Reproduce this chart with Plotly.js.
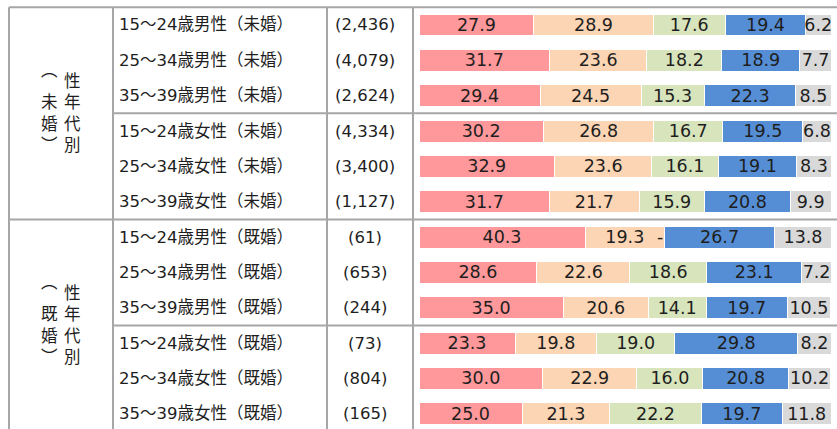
<!DOCTYPE html>
<html>
<head>
<meta charset="utf-8">
<script src="https://cdn.plot.ly/plotly-3.0.1.min.js"></script>
<style>
  html, body { margin: 0; padding: 0; background: #fff; }
  #chart { width: 837px; height: 429px; }
</style>
</head>
<body>
<div id="chart"></div>
<script>
// row labels and sample sizes
const rowLabels = [
	"15～24歳男性（未婚）", "25～34歳男性（未婚）", "35～39歳男性（未婚）",
	"15～24歳女性（未婚）", "25～34歳女性（未婚）", "35～39歳女性（未婚）",
	"15～24歳男性（既婚）", "25～34歳男性（既婚）", "35～39歳男性（既婚）",
	"15～24歳女性（既婚）", "25～34歳女性（既婚）", "35～39歳女性（既婚）",
];
const sampleSizes = ["(2,436)", "(4,079)", "(2,624)", "(4,334)", "(3,400)", "(1,127)",
	"(61)", "(653)", "(244)", "(73)", "(804)", "(165)"];

// group labels (vertical text, two columns)
const groupLabels = [
	{ paren: ["︵", "未", "婚", "︶"], title: ["性", "年", "代", "別"], center: 2.5 },
	{ paren: ["︵", "既", "婚", "︶"], title: ["性", "年", "代", "別"], center: 8.5 },
];

// series values (percent), 0 = shown as "-"
const seriesNames = ["選択肢1", "選択肢2", "選択肢3", "選択肢4", "選択肢5"];
const s1 = [27.9, 31.7, 29.4, 30.2, 32.9, 31.7, 40.3, 28.6, 35.0, 23.3, 30.0, 25.0];
const s2 = [28.9, 23.6, 24.5, 26.8, 23.6, 21.7, 19.3, 22.6, 20.6, 19.8, 22.9, 21.3];
const s3 = [17.6, 18.2, 15.3, 16.7, 16.1, 15.9, 0, 18.6, 14.1, 19.0, 16.0, 22.2];
const s4 = [19.4, 18.9, 22.3, 19.5, 19.1, 20.8, 26.7, 23.1, 19.7, 29.8, 20.8, 19.7];
const s5 = [6.2, 7.7, 8.5, 6.8, 8.3, 9.9, 13.8, 7.2, 10.5, 8.2, 10.2, 11.8];
const seriesColors = ["#FF989A", "#FCD5B4", "#D8E4BC", "#558ED5", "#D9D9D9"];

// page geometry
const W = 837, H = 429;
const yTop = -0.707, yBottom = 11.429;
const lineColor = "#A6A6A6";
const font = "DejaVu Sans, Noto Sans CJK JP, sans-serif";
const txt = { family: font, size: 16.5, color: "#1e1e1e" };
const barTxt = { family: font, size: 17.5, color: "#1e1e1e" };
const px = (v) => v / W;
const rowToPaper = (v) => 1 - (v - yTop) / (yBottom - yTop);

const allSeries = [s1, s2, s3, s4, s5];
const data = allSeries.map((vals, k) => ({
	type: "bar",
	orientation: "h",
	name: seriesNames[k],
	y: rowLabels,
	x: vals,
	width: 0.62,
	text: vals.map(v => v === 0 ? "" : v.toFixed(1)),
	textposition: "inside",
	insidetextanchor: "middle",
	constraintext: "none",
	textfont: barTxt,
	marker: { color: seriesColors[k], line: { color: "#fff", width: 1 } },
	hoverinfo: "none",
}));

// text annotations
const annotations = [];
rowLabels.forEach((lab, i) => {
	annotations.push({
		xref: "paper", yref: "y", x: px(117), y: lab, xanchor: "left", yanchor: "middle",
		text: lab, showarrow: false, font: txt,
	});
	annotations.push({
		xref: "paper", yref: "y", x: px(365), y: lab, xanchor: "center", yanchor: "middle",
		text: sampleSizes[i], showarrow: false, font: txt,
	});
	// zero segments get a "-" at their position
	let cum = 0;
	allSeries.forEach(vals => {
		if (vals[i] === 0) {
			annotations.push({
				xref: "x", yref: "y", x: cum, y: lab, xanchor: "right", yanchor: "middle",
				text: "-", showarrow: false, font: barTxt,
			});
		}
		cum += vals[i];
	});
});
groupLabels.forEach(g => {
	[[g.paren, 49], [g.title, 72]].forEach(([chars, cx]) => {
		chars.forEach((c, j) => {
			// the vertical opening bracket glyph sits low in its box
			const nudge = c === "︵" ? 11 : 0;
			annotations.push({
				xref: "paper", yref: "paper", x: px(cx), y: rowToPaper(g.center),
				xanchor: "center", yanchor: "middle",
				yshift: nudge - (j - 1.5) * 21.5, text: c, showarrow: false, font: txt,
			});
		});
	});
});

// table grid lines
const shapes = [];
const hLine = (row, x0) => shapes.push({
	type: "line", xref: "paper", yref: "paper", x0: px(x0), x1: 1,
	y0: rowToPaper(row), y1: rowToPaper(row), line: { color: lineColor, width: 2 },
});
hLine(-0.5, 9);
hLine(2.5, 113);
hLine(5.5, 9);
hLine(8.5, 113);
[9, 113, 327, 413].forEach(x => shapes.push({
	type: "line", xref: "paper", yref: "paper", x0: px(x), x1: px(x),
	y0: 0, y1: rowToPaper(-0.5), line: { color: lineColor, width: 2 },
}));

const layout = {
	width: W,
	height: H,
	margin: { l: 0, r: 0, t: 0, b: 0 },
	barmode: "stack",
	showlegend: false,
	paper_bgcolor: "#fff",
	plot_bgcolor: "#fff",
	xaxis: { domain: [px(419), px(831)], range: [0, 100], visible: false, fixedrange: true },
	yaxis: {
		type: "category", categoryorder: "array", categoryarray: rowLabels,
		range: [yBottom, yTop], visible: false, fixedrange: true,
	},
	annotations,
	shapes,
};

Plotly.newPlot("chart", data, layout, { displayModeBar: false, staticPlot: true });
</script>
</body>
</html>
